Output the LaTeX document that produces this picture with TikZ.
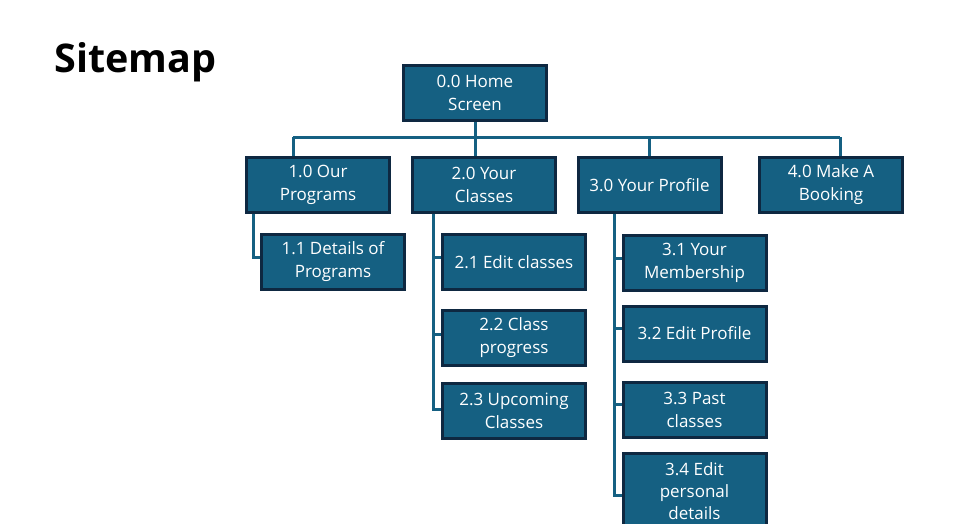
\documentclass[tikz,border=0pt]{standalone}
\usepackage{fontspec}
\setmainfont{Open Sans}
\usepackage{xcolor}
\usetikzlibrary{positioning}

\definecolor{boxblue}{HTML}{156082}
\definecolor{boxedge}{HTML}{0E2841}

\tikzset{
  box/.style={draw=boxedge, line width=2pt, fill=boxblue, text=white, align=center,
    minimum width=142pt, minimum height=54pt, inner sep=0pt,
    font=\fontsize{17}{23}\selectfont},
  link/.style={draw=boxblue, line width=3pt}
}

\begin{document}
\begin{tikzpicture}[x=1pt,y=-1pt]
\useasboundingbox (0,0) rectangle (963,524);
\clip (0,0) rectangle (963,524);

\node[anchor=base west, font=\bfseries\fontsize{39.5}{48}\selectfont] (title) at (51,73) {Sitemap};

% top level
\node[box] (home) at (475,93) {0.0 Home\\Screen};
\node[box] (p1) at (318,185) {1.0 Our\\Programs};
\node[box] (p2) at (484,185) {2.0 Your\\Classes};
\node[box] (p3) at (649.5,185) {3.0 Your Profile};
\node[box] (p4) at (831,185) {4.0 Make A\\Booking};

% second level
\node[box] (c11) at (333,262) {1.1 Details of\\Programs};
\node[box] (c21) at (514,262) {2.1 Edit classes};
\node[box] (c22) at (514,338) {2.2 Class\\progress};
\node[box] (c23) at (514,411) {2.3 Upcoming\\Classes};
\node[box] (c31) at (694.5,262.5) {3.1 Your\\Membership};
\node[box] (c32) at (694.5,333.5) {3.2 Edit Profile};
\node[box] (c33) at (694.5,409.5) {3.3 Past\\classes};
\node[box, minimum height=74pt, font=\fontsize{17}{22}\selectfont] (c34) at (694.5,491) {3.4 Edit\\personal\\details};

% bus
\coordinate (busL) at (293,137);
\coordinate (busR) at (840,137);
\draw[link] (busL) -- (busR);
\draw[link] (home.south) -- (home.south |- p2.north);
\draw[link] (busL) -- (busL |- p1.north);
\draw[link] (p3.north) -- (p3.north |- busL);
\draw[link] (busR) -- (busR |- p4.north);

% branches
\draw[link] ([xshift=-65pt]p1.south) |- ([yshift=5pt]c11.west);
\foreach \c/\dy in {c21/5, c22/4, c23/2}
  \draw[link] ([xshift=-51pt]p2.south) |- ([yshift=\dy pt]\c.west);
\foreach \c/\dy in {c31/4.5, c32/5.5, c33/5.5, c34/-4}
  \draw[link] ([xshift=-35pt]p3.south) |- ([yshift=\dy pt]\c.west);

% boxes on top of the lines
\foreach \n in {home,p1,p2,p3,p4,c11,c21,c22,c23,c31,c32,c33,c34}
  \draw[boxedge, line width=2pt] (\n.north west) rectangle (\n.south east);
\end{tikzpicture}
\end{document}
